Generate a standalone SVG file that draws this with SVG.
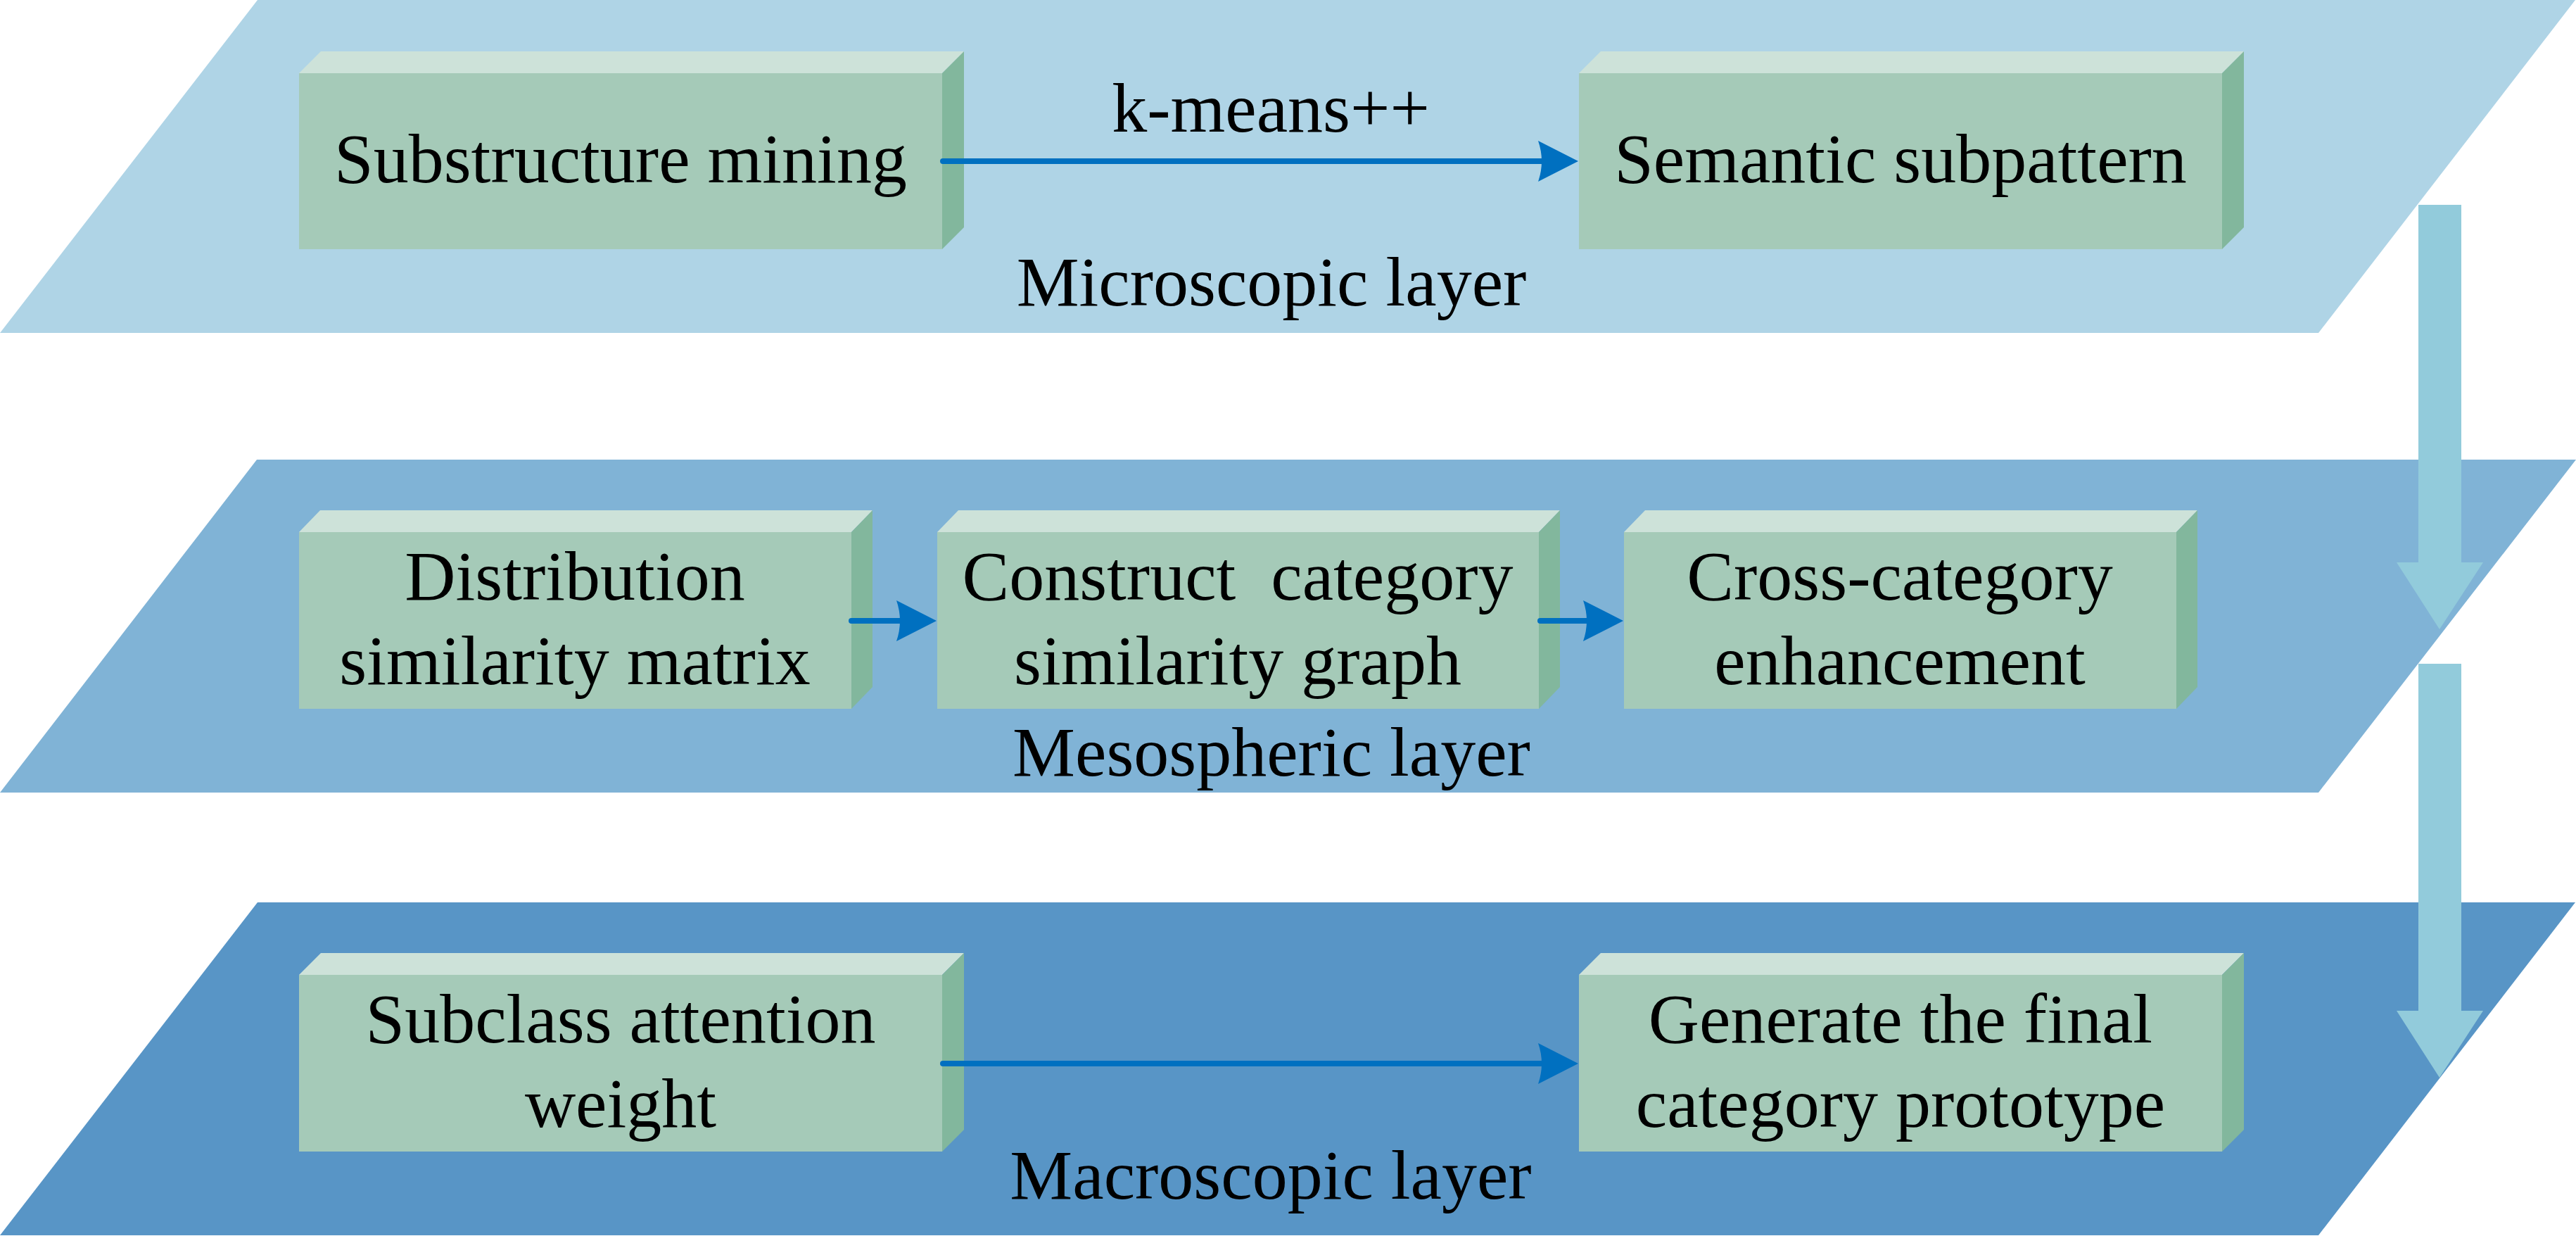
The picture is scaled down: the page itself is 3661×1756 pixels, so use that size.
<svg xmlns="http://www.w3.org/2000/svg" width="3661" height="1756" viewBox="0 0 3661 1756">
<style>
.front{fill:#A5CAB8}
.top{fill:#CDE2D9}
.side{fill:#82B79D}
.t{font-family:"Liberation Serif","Times New Roman",serif;font-size:100px;fill:#000;text-anchor:middle}
.conn{stroke:#0070C0;stroke-width:8;stroke-linecap:round;fill:none;marker-end:url(#ah)}
.flow{fill:#92CBDB}
</style>
<defs>
<marker id="ah" markerUnits="userSpaceOnUse" markerWidth="60" markerHeight="60" refX="6" refY="29" orient="auto" overflow="visible">
<path d="M0,0 L57,29 L0,58 Q10,29 0,0 Z" fill="#0070C0"/>
</marker>
</defs>
<rect width="3661" height="1756" fill="#fff"/>
<g id="layer-micro">
<polygon points="366,0 3660,0 3295,473 0,473" fill="#AFD4E6"/>
<text class="t" x="1807" y="434">Microscopic layer</text>
</g>
<g id="layer-meso">
<polygon points="365,653 3661,653 3295,1126 0,1126" fill="#80B3D6"/>
<text class="t" x="1807" y="1102">Mesospheric layer</text>
</g>
<g id="layer-macro">
<polygon points="366,1282 3660,1282 3295,1755 0,1755" fill="#5895C6"/>
<text class="t" x="1806" y="1703">Macroscopic layer</text>
</g>
<g id="flow-arrows">
<polygon class="flow" points="3437,291 3498,291 3498,799 3529,799 3467,894 3406,799 3437,799"/>
<polygon class="flow" points="3437,943 3498,943 3498,1436 3529,1436 3467,1531 3406,1436 3437,1436"/>
</g>
<g id="node-substructure">
<rect class="front" x="425" y="104" width="914" height="250"/>
<polygon class="top" points="425,104 456,73 1370,73 1339,104"/>
<polygon class="side" points="1339,104 1370,73 1370,323 1339,354"/>
<text class="t" x="882" y="259">Substructure mining</text>
</g>
<g id="node-semantic">
<rect class="front" x="2244" y="104" width="914" height="250"/>
<polygon class="top" points="2244,104 2275,73 3189,73 3158,104"/>
<polygon class="side" points="3158,104 3189,73 3189,323 3158,354"/>
<text class="t" x="2701" y="259">Semantic subpattern</text>
</g>
<g id="node-distribution">
<rect class="front" x="425" y="756" width="785" height="251"/>
<polygon class="top" points="425,756 455,725 1240,725 1210,756"/>
<polygon class="side" points="1210,756 1240,725 1240,976 1210,1007"/>
<text class="t" x="817" y="852">Distribution</text>
<text class="t" x="817" y="972">similarity matrix</text>
</g>
<g id="node-construct">
<rect class="front" x="1332" y="756" width="855" height="251"/>
<polygon class="top" points="1332,756 1362,725 2217,725 2187,756"/>
<polygon class="side" points="2187,756 2217,725 2217,976 2187,1007"/>
<text class="t" x="1759" y="852" xml:space="preserve">Construct  category</text>
<text class="t" x="1759" y="972">similarity graph</text>
</g>
<g id="node-cross">
<rect class="front" x="2308" y="756" width="785" height="251"/>
<polygon class="top" points="2308,756 2338,725 3123,725 3093,756"/>
<polygon class="side" points="3093,756 3123,725 3123,976 3093,1007"/>
<text class="t" x="2700" y="852">Cross-category</text>
<text class="t" x="2700" y="972">enhancement</text>
</g>
<g id="node-subclass">
<rect class="front" x="425" y="1385" width="914" height="251"/>
<polygon class="top" points="425,1385 456,1354 1370,1354 1339,1385"/>
<polygon class="side" points="1339,1385 1370,1354 1370,1605 1339,1636"/>
<text class="t" x="882" y="1481">Subclass attention</text>
<text class="t" x="882" y="1601">weight</text>
</g>
<g id="node-generate">
<rect class="front" x="2244" y="1385" width="914" height="251"/>
<polygon class="top" points="2244,1385 2275,1354 3189,1354 3158,1385"/>
<polygon class="side" points="3158,1385 3189,1354 3189,1605 3158,1636"/>
<text class="t" x="2701" y="1481">Generate the final</text>
<text class="t" x="2701" y="1601">category prototype</text>
</g>
<g id="connectors">
<line class="conn" x1="1340" y1="229" x2="2192" y2="229"/>
<text class="t" x="1806" y="187">k-means++</text>
<line class="conn" x1="1210" y1="882" x2="1280" y2="882"/>
<line class="conn" x1="2189" y1="882" x2="2256" y2="882"/>
<line class="conn" x1="1340" y1="1511" x2="2192" y2="1511"/>
</g>
</svg>
